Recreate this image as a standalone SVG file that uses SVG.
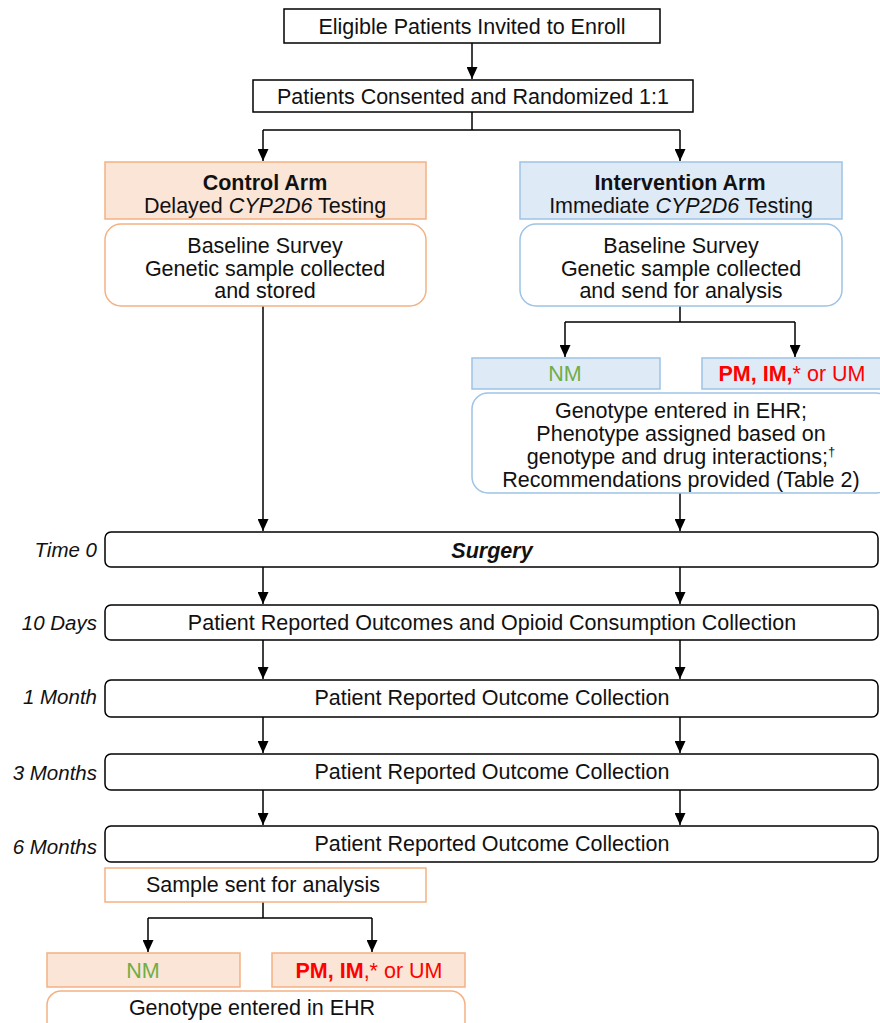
<svg xmlns="http://www.w3.org/2000/svg" width="880" height="1023" viewBox="0 0 880 1023">
<defs>
<marker id="ah" markerWidth="12" markerHeight="11" refX="12" refY="5.5" orient="auto" markerUnits="userSpaceOnUse" viewBox="0 0 12 11">
<path d="M0,0 L12,5.5 L0,11 Z" fill="#000"/>
</marker>
</defs>
<style>
text{font-family:"Liberation Sans",Arial,sans-serif;font-size:21.5px;fill:#111;text-anchor:middle}
.b{stroke:#000;stroke-width:1.5;fill:#fff}
.oh{fill:#fbe5d6;stroke:#f4b183;stroke-width:1.5}
.ow{fill:#fff;stroke:#f4b183;stroke-width:1.5}
.bh{fill:#deebf7;stroke:#9dc3e6;stroke-width:1.5}
.bw{fill:#fff;stroke:#9dc3e6;stroke-width:1.5}
.lbl{font-style:italic;text-anchor:end;font-size:20.5px}
.c{fill:none;stroke:#000;stroke-width:1.5}
.a{marker-end:url(#ah)}
.g{fill:#70ad47}
.r{fill:#ff0000}
</style>
<g id="connectors">
<path class="c a" d="M472,43 V79"/>
<path class="c" d="M472,112 V130 M263,130 H680"/>
<path class="c a" d="M263,130 V161"/>
<path class="c a" d="M680,130 V161"/>
<path class="c a" d="M263,306 V531"/>
<path class="c" d="M680,306 V322 M565,322 H795"/>
<path class="c a" d="M565,322 V357"/>
<path class="c a" d="M795,322 V357"/>
<path class="c a" d="M680,493 V531"/>
<path class="c a" d="M263,567 V604"/>
<path class="c a" d="M680,567 V604"/>
<path class="c a" d="M263,640 V679"/>
<path class="c a" d="M680,640 V679"/>
<path class="c a" d="M263,717 V753"/>
<path class="c a" d="M680,717 V753"/>
<path class="c a" d="M263,790 V825"/>
<path class="c a" d="M680,790 V825"/>
<path class="c" d="M263,902 V918 M148,918 H372"/>
<path class="c a" d="M148,918 V952"/>
<path class="c a" d="M372,918 V952"/>
</g>
<g id="enroll"><rect class="b" x="284" y="9" width="376" height="34"/><text x="472" y="34">Eligible Patients Invited  to Enroll</text></g>
<g id="randomized"><rect class="b" x="253" y="80" width="440" height="32"/><text x="473" y="104">Patients Consented  and Randomized  1:1</text></g>
<g id="control-arm"><rect class="oh" x="105" y="162" width="321" height="57"/><text x="265" y="190" font-weight="bold">Control Arm</text><text x="265" y="213">Delayed <tspan font-style="italic">CYP2D6</tspan> Testing</text></g>
<g id="intervention-arm"><rect class="bh" x="520" y="162" width="322" height="57"/><text x="680" y="190" font-weight="bold">Intervention Arm</text><text x="681" y="213">Immediate  <tspan font-style="italic">CYP2D6</tspan> Testing</text></g>
<g id="control-baseline"><rect class="ow" x="105" y="224" width="321" height="82" rx="16"/><text x="265" y="253">Baseline Survey</text><text x="265" y="276">Genetic sample collected</text><text x="265" y="298">and stored</text></g>
<g id="intervention-baseline"><rect class="bw" x="520" y="224" width="322" height="82" rx="16"/><text x="681" y="253">Baseline Survey</text><text x="681" y="276">Genetic sample collected</text><text x="681" y="298">and send for analysis</text></g>
<g id="int-nm"><rect class="bh" x="472" y="358" width="188" height="31"/><text class="g" x="565" y="381">NM</text></g>
<g id="int-pm"><rect class="bh" x="702" y="358" width="180" height="31"/><text class="r" x="792" y="381"><tspan font-weight="bold">PM, IM,</tspan>* or UM</text></g>
<g id="int-genotype"><rect class="bw" x="472" y="393" width="420" height="100" rx="16"/><text x="681" y="418">Genotype entered in EHR;</text><text x="681" y="441">Phenotype assigned based on</text><text x="681" y="464">genotype and drug interactions;<tspan font-size="13" dy="-8">†</tspan></text><text x="681" y="487">Recommendations provided  (Table 2)</text></g>
<g id="surgery"><rect class="b" x="105" y="532" width="773" height="35" rx="6"/><text x="492" y="558" font-weight="bold" font-style="italic">Surgery</text><text class="lbl" x="97" y="557">Time 0</text></g>
<g id="day10"><rect class="b" x="105" y="605" width="773" height="35" rx="6"/><text x="492" y="630">Patient Reported  Outcomes and Opioid Consumption  Collection</text><text class="lbl" x="97" y="630">10 Days</text></g>
<g id="month1"><rect class="b" x="105" y="680" width="773" height="37" rx="6"/><text x="492" y="705">Patient Reported  Outcome Collection</text><text class="lbl" x="97" y="704">1 Month</text></g>
<g id="month3"><rect class="b" x="105" y="754" width="773" height="36" rx="6"/><text x="492" y="779">Patient Reported  Outcome Collection</text><text class="lbl" x="97" y="780">3 Months</text></g>
<g id="month6"><rect class="b" x="105" y="826" width="773" height="36" rx="6"/><text x="492" y="851">Patient Reported  Outcome Collection</text><text class="lbl" x="97" y="854">6 Months</text></g>
<g id="sample-sent"><rect class="ow" x="105" y="868" width="321" height="34"/><text x="263" y="892">Sample  sent for  analysis</text></g>
<g id="ctl-nm"><rect class="oh" x="47" y="953" width="193" height="34"/><text class="g" x="143" y="978">NM</text></g>
<g id="ctl-pm"><rect class="oh" x="272" y="953" width="193" height="34"/><text class="r" x="369" y="978"><tspan font-weight="bold">PM, IM</tspan>,* or UM</text></g>
<g id="ctl-genotype"><rect class="ow" x="47" y="991" width="418" height="50" rx="14"/><text x="252" y="1015">Genotype  entered  in EHR</text></g>
</svg>
